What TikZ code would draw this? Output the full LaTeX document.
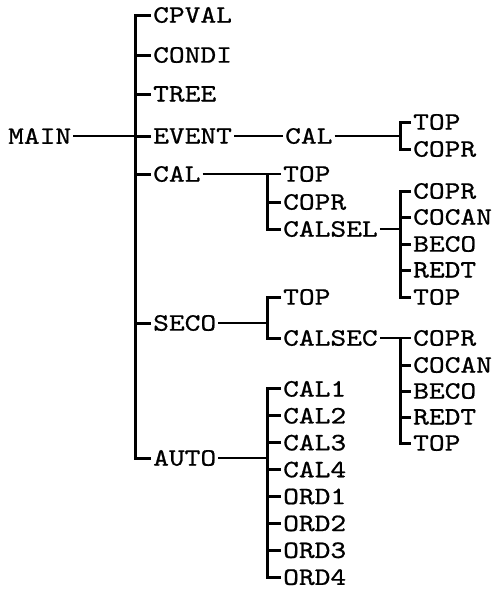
\documentclass[tikz,border=0pt]{standalone}
\usepackage{fontspec}
\usepackage{tikz}
\newfontfamily\typewr{lmmono10-regular.otf}[FakeStretch=1.2,FakeBold=0.8]

\begin{document}
\begin{tikzpicture}[
  x=1pt, y=-1pt,
  lbl/.style={anchor=west, inner xsep=2pt, inner ysep=0pt,
              font=\typewr\fontsize{25}{25}\selectfont},
  bar/.style={line width=3pt},
  tick/.style={line width=3pt},
  link/.style={line width=2.2pt}
]
  \useasboundingbox (0,0) rectangle (495,590);

  \coordinate (mainbar) at (135,0);
  \coordinate (evbar)   at (400,0);
  \coordinate (calbar)  at (267,0);
  \coordinate (selbar)  at (400,0);
  \coordinate (secbar)  at (267,0);
  \coordinate (cscbar)  at (400,0);
  \coordinate (autobar) at (267,0);

  \node[lbl] (main)  at (6,136)   {MAIN};
  \node[lbl] (cpval) at (151,15)  {CPVAL};
  \node[lbl] (condi) at (151,55)  {CONDI};
  \node[lbl] (tree)  at (151,94)  {TREE};
  \node[lbl] (event) at (151,136) {EVENT};
  \node[lbl] (cal)   at (151,174) {CAL};
  \node[lbl] (seco)  at (151,323) {SECO};
  \node[lbl] (auto)  at (151,458) {AUTO};

  \node[lbl] (evcal)  at (283,136) {CAL};
  \node[lbl] (evtop)  at (411,122) {TOP};
  \node[lbl] (evcopr) at (411,149) {COPR};

  \node[lbl] (caltop)  at (281,174) {TOP};
  \node[lbl] (calcopr) at (281,202) {COPR};
  \node[lbl] (calsel)  at (281,229) {CALSEL};

  \node[lbl] (selcopr)  at (411,191) {COPR};
  \node[lbl] (selcocan) at (411,217) {COCAN};
  \node[lbl] (selbeco)  at (411,244) {BECO};
  \node[lbl] (selredt)  at (411,270) {REDT};
  \node[lbl] (seltop)   at (411,297) {TOP};

  \node[lbl] (sectop) at (281,297) {TOP};
  \node[lbl] (calsec) at (281,338) {CALSEC};

  \node[lbl] (csccopr)  at (411,338) {COPR};
  \node[lbl] (csccocan) at (411,365) {COCAN};
  \node[lbl] (cscbeco)  at (411,391) {BECO};
  \node[lbl] (cscredt)  at (411,417) {REDT};
  \node[lbl] (csctop)   at (411,443) {TOP};

  \foreach \i in {1,...,4} {
    \node[lbl] (cal\i) at (281,362+26.9*\i) {CAL\i};
    \node[lbl] (ord\i) at (281,469.6+26.9*\i) {ORD\i};
  }

  \draw[link] (main.east) -- (main.east -| mainbar);
  \draw[bar]  (cpval.west) -- (cpval.west -| mainbar) -- (auto.west -| mainbar) -- (auto.west);
  \foreach \n in {condi,tree,event,cal,seco}
    \draw[tick] (\n.west -| mainbar) -- (\n.west);

  \draw[link] (event.east) -- (evcal.west);
  \draw[link] (evcal.east) -- (evcal.east -| evbar);
  \draw[bar]  (evtop.west) -- (evtop.west -| evbar) -- (evcopr.west -| evbar) -- (evcopr.west);

  \draw[link] (cal.east) -- (caltop.west);
  \draw[bar]  (caltop.west -| calbar) -- (calsel.west -| calbar) -- (calsel.west);
  \draw[tick] (calcopr.west -| calbar) -- (calcopr.west);

  \draw[link] (calsel.east) -- (calsel.east -| selbar);
  \draw[bar]  (selcopr.west) -- (selcopr.west -| selbar) -- (seltop.west -| selbar) -- (seltop.west);
  \foreach \n in {selcocan,selbeco,selredt}
    \draw[tick] (\n.west -| selbar) -- (\n.west);

  \draw[link] (seco.east) -- (seco.east -| secbar);
  \draw[bar]  (sectop.west) -- (sectop.west -| secbar) -- (calsec.west -| secbar) -- (calsec.west);

  \draw[link] (calsec.east) -- (csccopr.west);
  \draw[bar]  (csccopr.west -| cscbar) -- (csctop.west -| cscbar) -- (csctop.west);
  \foreach \n in {csccocan,cscbeco,cscredt}
    \draw[tick] (\n.west -| cscbar) -- (\n.west);

  \draw[link] (auto.east) -- (auto.east -| autobar);
  \draw[bar]  (cal1.west) -- (cal1.west -| autobar) -- (ord4.west -| autobar) -- (ord4.west);
  \foreach \n in {cal2,cal3,cal4,ord1,ord2,ord3}
    \draw[tick] (\n.west -| autobar) -- (\n.west);
\end{tikzpicture}
\end{document}
